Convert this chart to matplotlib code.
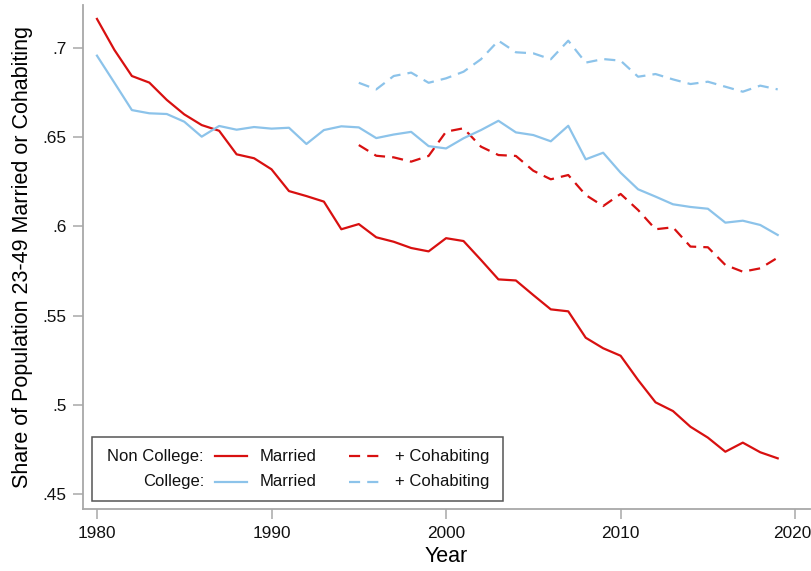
import matplotlib.pyplot as plt
from matplotlib.lines import Line2D
from matplotlib.patches import Rectangle
from matplotlib.ticker import FuncFormatter
from matplotlib.transforms import ScaledTranslation

plt.rcParams['font.family'] = ['Liberation Sans', 'DejaVu Sans']

# Datos
years = list(range(1980, 2020))
years_cohab = list(range(1995, 2020))

noncol_married = [0.7163, 0.6989, 0.6843, 0.6806, 0.6709, 0.6628, 0.6568, 0.6536, 0.6404, 0.6382,
                  0.6320, 0.6198, 0.6170, 0.6139, 0.5984, 0.6013, 0.5939, 0.5914, 0.5879, 0.5860,
                  0.5934, 0.5918, 0.5812, 0.5703, 0.5697, 0.5615, 0.5535, 0.5524, 0.5376, 0.5317,
                  0.5275, 0.5139, 0.5014, 0.4965, 0.4877, 0.4816, 0.4737, 0.4788, 0.4734, 0.4700]

col_married = [0.6957, 0.6805, 0.6652, 0.6634, 0.6630, 0.6587, 0.6503, 0.6563, 0.6542, 0.6557,
               0.6548, 0.6553, 0.6462, 0.6540, 0.6561, 0.6555, 0.6495, 0.6515, 0.6530, 0.6450,
               0.6437, 0.6494, 0.6540, 0.6592, 0.6527, 0.6512, 0.6477, 0.6564, 0.6376, 0.6413,
               0.6301, 0.6208, 0.6167, 0.6124, 0.6109, 0.6099, 0.6021, 0.6032, 0.6008, 0.5952]

noncol_cohab = [0.6456, 0.6396, 0.6387, 0.6363, 0.6395, 0.6531, 0.6550, 0.6447, 0.6400, 0.6395,
                0.6312, 0.6264, 0.6288, 0.6176, 0.6114, 0.6182, 0.6092, 0.5984, 0.5995, 0.5887,
                0.5883, 0.5784, 0.5746, 0.5765, 0.5825]

col_cohab = [0.6805, 0.6768, 0.6843, 0.6862, 0.6805, 0.6830, 0.6867, 0.6937, 0.7041, 0.6976,
             0.6970, 0.6937, 0.7041, 0.6918, 0.6938, 0.6929, 0.6839, 0.6854, 0.6824, 0.6798,
             0.6811, 0.6783, 0.6755, 0.6789, 0.6768]

red = '#d81010'
blue = '#8cc3ea'
dash = (5, 3.2)

fig = plt.figure(figsize=(8.12, 5.71), dpi=100)
ax = fig.add_axes([83 / 812, 1 - 509 / 571, 727 / 812, 504 / 571])

ax.plot(years, noncol_married, color=red, lw=1.6)
ax.plot(years_cohab, noncol_cohab, color=red, lw=1.6, dashes=dash)
ax.plot(years, col_married, color=blue, lw=1.6)
ax.plot(years_cohab, col_cohab, color=blue, lw=1.6, dashes=dash)

ax.set_xlim(1979.2, 2020.85)
ax.set_ylim(0.4416, 0.7241)
ax.set_xticks([1980, 1990, 2000, 2010, 2020])
ax.set_yticks([0.45, 0.5, 0.55, 0.6, 0.65, 0.7])
ax.yaxis.set_major_formatter(FuncFormatter(lambda v, p: f'{v:g}'.lstrip('0')))

for s in ['top', 'right']:
    ax.spines[s].set_visible(False)
for s in ['left', 'bottom']:
    ax.spines[s].set_color('#a8a8a8')
    ax.spines[s].set_linewidth(1.3)
ax.tick_params(direction='out', length=7, width=1.1, color='#a8a8a8',
               labelsize=12.4, labelcolor='#111111', pad=5)

ax.set_xlabel('Year', fontsize=15.5, labelpad=4)
ax.set_ylabel('Share of Population 23-49 Married or Cohabiting', fontsize=15.5, labelpad=7)

# Leyenda estilo Stata, dibujada a mano
ax.add_patch(Rectangle((0.0124, 0.0159), 0.5656, 0.127, transform=ax.transAxes,
                       fill=True, facecolor='white', edgecolor='#555555', lw=1.1, zorder=5))
rows = [(0.105, 'Non College:', red), (0.0536, 'College:', blue)]
for y, label, c in rows:
    ax.text(0.1664, y, label, transform=ax.transAxes, ha='right', va='center',
            fontsize=12, color='#111111', zorder=6)
    ax.add_line(Line2D([0.1816, 0.2255], [y, y], transform=ax.transAxes, color=c,
                       lw=1.6, zorder=6))
    ax.text(0.2435, y, 'Married', transform=ax.transAxes, ha='left', va='center',
            fontsize=12, color='#111111', zorder=6)
    ax.add_line(Line2D([0.366, 0.411], [y, y], transform=ax.transAxes, color=c,
                       lw=1.6, dashes=dash, zorder=6))
    ax.text(0.429, y, '+ Cohabiting', transform=ax.transAxes, ha='left', va='center',
            fontsize=12, color='#111111', zorder=6)

# la etiqueta 2020 queda pegada al borde; se corre un poco a la izquierda
last = ax.xaxis.get_major_ticks()[-1].label1
last.set_transform(last.get_transform() + ScaledTranslation(-3 / 100, 0, fig.dpi_scale_trans))

fig.savefig('out.png', dpi=100)
